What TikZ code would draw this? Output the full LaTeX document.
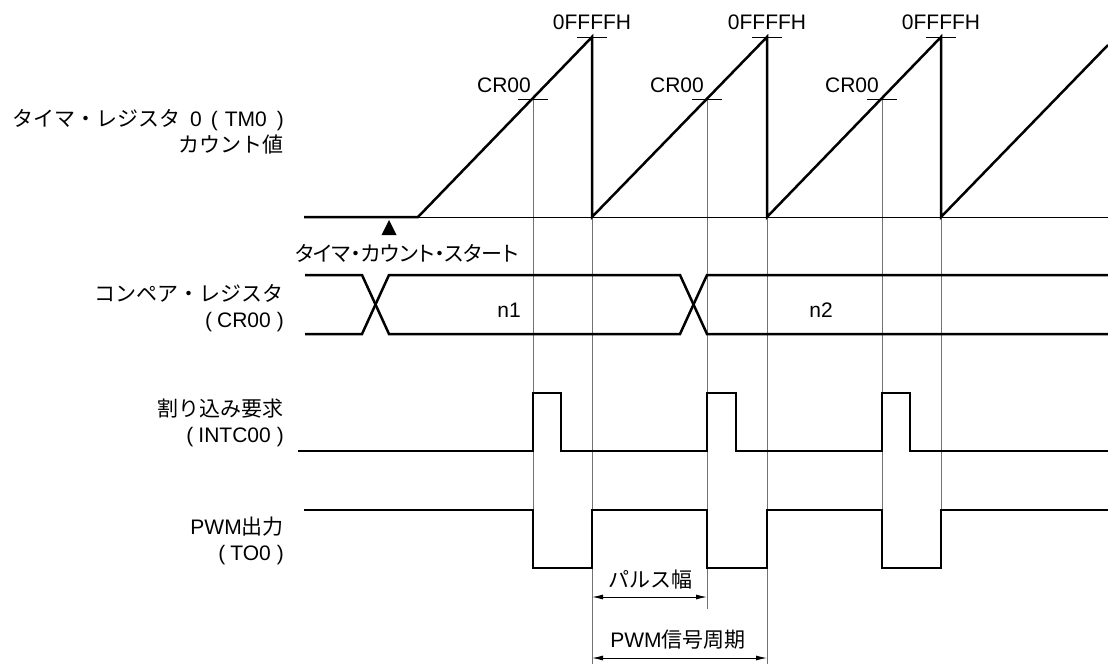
\documentclass[tikz,border=0pt]{standalone}
\usepackage{fontspec}
\setmainfont{Liberation Sans}
\newfontfamily\jp{Noto Sans CJK JP}
\newfontfamily\jpp[RawFeature=+palt]{Noto Sans CJK JP}
\usepackage{tikz}
\usetikzlibrary{arrows.meta}

\begin{document}
\begin{tikzpicture}[x=1pt, y=-1pt, font=\fontsize{21}{26}\selectfont]
  \tikzset{sig/.style={line width=2.5pt, line join=miter},
    guide/.style={line width=1pt, black!55},
    tick/.style={line width=1pt},
    lbl/.style={align=right, anchor=east, inner sep=0pt},
    dim/.style={line width=1pt, {Latex[length=11pt,width=5pt]}-{Latex[length=11pt,width=5pt]}}}
  \useasboundingbox (0,0) rectangle (1108,664);
  % signal names
  \node[lbl] (tm) at (284,132) {{\jp タイマ・レジスタ}\hspace{10pt}0\hspace{9pt}(\hspace{7pt}TM0\hspace{10pt})\hspace{9pt}\\{\jp カウント値}};
  \node[lbl] (cr) at (284,308) {{\jp コンペア・レジスタ}\\(\hspace{5pt}CR00\hspace{6pt})\hspace{5pt}};
  \node[lbl] (intc) at (284,423) {{\jp 割り込み要求}\\(\hspace{5pt}INTC00\hspace{6pt})\hspace{5pt}};
  \node[lbl] (pwm) at (284,541) {PWM{\jp 出力}\\(\hspace{5pt}TO0\hspace{6pt})\hspace{5pt}};
  % guide lines
  \draw[guide] (533,99) -- (533,510);
  \draw[guide] (592,217) -- (592,664);
  \draw[guide] (707,99) -- (707,609);
  \draw[guide] (767,217) -- (767,664);
  \draw[guide] (882,99) -- (882,568);
  \draw[guide] (941,217) -- (941,510);
  % TM0 count
  \draw[tick] (418,217) -- (1108,217);
  \draw[sig] (304,217) -- (418,217) -- (592,37) -- (592,217) -- (767,37) -- (767,217)
    -- (941,37) -- (941,217) -- (1108,45);
  \draw[tick] (577,37) -- (607,37) (752,37) -- (782,37) (926,37) -- (956,37);
  \draw[tick] (518,99) -- (548,99) (692,99) -- (722,99) (867,99) -- (897,99);
  \node (ff1) at (592,22) {0FFFFH};
  \node (ff2) at (767,22) {0FFFFH};
  \node (ff3) at (941,22) {0FFFFH};
  \node[anchor=east, inner sep=0pt] (c1) at (531,85) {CR00};
  \node[anchor=east, inner sep=0pt] (c2) at (704,85) {CR00};
  \node[anchor=east, inner sep=0pt] (c3) at (879,85) {CR00};
  \fill (389,220) -- (381.5,235) -- (396.5,235) -- cycle;
  \node (start) at (407,253) {\jpp タイマ・カウント・スタート};
  % CR00
  \draw[sig] (305,275) -- (362,275) -- (389,334) -- (680,334) -- (707,275) -- (1108,275);
  \draw[sig] (305,334) -- (362,334) -- (389,275) -- (680,275) -- (707,334) -- (1108,334);
  \node (n1) at (509,310) {n1};
  \node (n2) at (821,310) {n2};
  % INTC00
  \draw[sig] (298,451) -- (533,451) -- (533,393) -- (561,393) -- (561,451) -- (707,451)
    -- (707,393) -- (736,393) -- (736,451) -- (882,451) -- (882,393) -- (910,393)
    -- (910,451) -- (1108,451);
  % TO0
  \draw[sig] (304,510) -- (533,510) -- (533,568) -- (592,568) -- (592,510) -- (707,510)
    -- (707,568) -- (767,568) -- (767,510) -- (882,510) -- (882,568) -- (941,568)
    -- (941,510) -- (1108,510);
  % widths
  \coordinate (pwa) at (592,597);
  \coordinate (pwb) at (707,597);
  \coordinate (pea) at (592,658);
  \coordinate (peb) at (767,658);
  \draw[dim] (pwa) -- (pwb);
  \draw[dim] (pea) -- (peb);
  \node (pw) at (650,580) {\jp パルス幅};
  \node (per) at (678,640) {PWM{\jp 信号周期}};
\end{tikzpicture}
\end{document}
